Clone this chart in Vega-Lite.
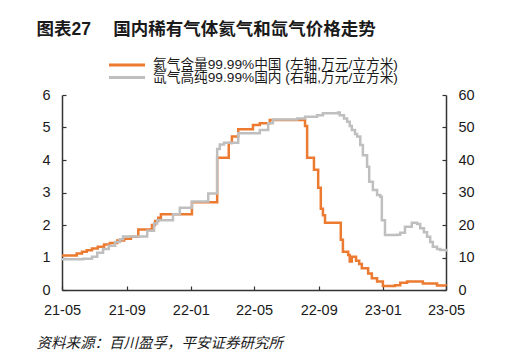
{
  "$schema": "https://vega.github.io/schema/vega-lite/v6.json",
  "width": 384,
  "height": 195,
  "autosize": {"type": "none"},
  "padding": {"left": 62, "top": 95, "right": 76, "bottom": 64},
  "background": "white",
  "config": {
    "view": {"stroke": null},
    "font": "Liberation Sans, Noto Sans CJK SC",
    "axis": {
      "grid": false,
      "domainColor": "#333333",
      "domainWidth": 1.5,
      "tickColor": "#333333",
      "tickWidth": 1.2,
      "labelFont": "Liberation Sans",
      "labelFontSize": 14.5,
      "labelColor": "#1a1a1a"
    }
  },
  "data": {
    "values": [
      {"series": "氦气", "date": "2021-05-01", "price": 1.06},
      {"series": "氦气", "date": "2021-05-29", "price": 1.12},
      {"series": "氦气", "date": "2021-06-08", "price": 1.18},
      {"series": "氦气", "date": "2021-06-17", "price": 1.22},
      {"series": "氦气", "date": "2021-06-27", "price": 1.28},
      {"series": "氦气", "date": "2021-07-08", "price": 1.33},
      {"series": "氦气", "date": "2021-07-20", "price": 1.40},
      {"series": "氦气", "date": "2021-07-31", "price": 1.45},
      {"series": "氦气", "date": "2021-08-14", "price": 1.52},
      {"series": "氦气", "date": "2021-08-27", "price": 1.58},
      {"series": "氦气", "date": "2021-09-09", "price": 1.64},
      {"series": "氦气", "date": "2021-09-23", "price": 1.86},
      {"series": "氦气", "date": "2021-10-19", "price": 2.00},
      {"series": "氦气", "date": "2021-10-25", "price": 2.12},
      {"series": "氦气", "date": "2021-10-31", "price": 2.22},
      {"series": "氦气", "date": "2021-11-05", "price": 2.33},
      {"series": "氦气", "date": "2022-01-03", "price": 2.70},
      {"series": "氦气", "date": "2022-02-20", "price": 4.07},
      {"series": "氦气", "date": "2022-03-14", "price": 4.52},
      {"series": "氦气", "date": "2022-03-20", "price": 4.72},
      {"series": "氦气", "date": "2022-04-01", "price": 4.95},
      {"series": "氦气", "date": "2022-04-29", "price": 5.08},
      {"series": "氦气", "date": "2022-05-12", "price": 5.13},
      {"series": "氦气", "date": "2022-05-31", "price": 5.23},
      {"series": "氦气", "date": "2022-08-06", "price": 5.05},
      {"series": "氦气", "date": "2022-08-10", "price": 4.07},
      {"series": "氦气", "date": "2022-08-23", "price": 3.70},
      {"series": "氦气", "date": "2022-08-31", "price": 3.15},
      {"series": "氦气", "date": "2022-09-05", "price": 2.50},
      {"series": "氦气", "date": "2022-09-09", "price": 2.30},
      {"series": "氦气", "date": "2022-09-13", "price": 2.07},
      {"series": "氦气", "date": "2022-10-13", "price": 1.55},
      {"series": "氦气", "date": "2022-10-17", "price": 1.18},
      {"series": "氦气", "date": "2022-10-27", "price": 1.08},
      {"series": "氦气", "date": "2022-10-30", "price": 0.88},
      {"series": "氦气", "date": "2022-11-03", "price": 1.02},
      {"series": "氦气", "date": "2022-11-11", "price": 0.90},
      {"series": "氦气", "date": "2022-11-17", "price": 0.80},
      {"series": "氦气", "date": "2022-11-22", "price": 0.67},
      {"series": "氦气", "date": "2022-12-04", "price": 0.51},
      {"series": "氦气", "date": "2022-12-11", "price": 0.36},
      {"series": "氦气", "date": "2022-12-21", "price": 0.26},
      {"series": "氦气", "date": "2023-01-01", "price": 0.12},
      {"series": "氦气", "date": "2023-01-24", "price": 0.15},
      {"series": "氦气", "date": "2023-02-03", "price": 0.22},
      {"series": "氦气", "date": "2023-02-16", "price": 0.26},
      {"series": "氦气", "date": "2023-03-18", "price": 0.20},
      {"series": "氦气", "date": "2023-04-14", "price": 0.14},
      {"series": "氦气", "date": "2023-05-01", "price": 0.13},
      {"series": "氙气", "date": "2021-05-01", "price": 9.5},
      {"series": "氙气", "date": "2021-06-10", "price": 9.6},
      {"series": "氙气", "date": "2021-06-27", "price": 10.2},
      {"series": "氙气", "date": "2021-07-07", "price": 11.5},
      {"series": "氙气", "date": "2021-07-18", "price": 12.6},
      {"series": "氙气", "date": "2021-07-29", "price": 13.6},
      {"series": "氙气", "date": "2021-08-10", "price": 14.8},
      {"series": "氙气", "date": "2021-08-19", "price": 15.6},
      {"series": "氙气", "date": "2021-08-25", "price": 16.5},
      {"series": "氙气", "date": "2021-10-10", "price": 18.2},
      {"series": "氙气", "date": "2021-10-23", "price": 20.5},
      {"series": "氙气", "date": "2021-10-29", "price": 21.5},
      {"series": "氙气", "date": "2021-11-28", "price": 23.3},
      {"series": "氙气", "date": "2021-12-11", "price": 25.3},
      {"series": "氙气", "date": "2022-01-03", "price": 27.2},
      {"series": "氙气", "date": "2022-02-03", "price": 29.7},
      {"series": "氙气", "date": "2022-02-20", "price": 43.4},
      {"series": "氙气", "date": "2022-02-25", "price": 44.8},
      {"series": "氙气", "date": "2022-03-05", "price": 45.3},
      {"series": "氙气", "date": "2022-04-01", "price": 48.2},
      {"series": "氙气", "date": "2022-05-12", "price": 49.2},
      {"series": "氙气", "date": "2022-05-28", "price": 51.3},
      {"series": "氙气", "date": "2022-06-06", "price": 52.5},
      {"series": "氙气", "date": "2022-07-22", "price": 52.8},
      {"series": "氙气", "date": "2022-08-06", "price": 53.3},
      {"series": "氙气", "date": "2022-08-29", "price": 53.8},
      {"series": "氙气", "date": "2022-09-09", "price": 54.4},
      {"series": "氙气", "date": "2022-10-08", "price": 54.6},
      {"series": "氙气", "date": "2022-10-11", "price": 53.8},
      {"series": "氙气", "date": "2022-10-19", "price": 52.8},
      {"series": "氙气", "date": "2022-10-25", "price": 51.8},
      {"series": "氙气", "date": "2022-10-30", "price": 50.5},
      {"series": "氙气", "date": "2022-11-03", "price": 49.2},
      {"series": "氙气", "date": "2022-11-09", "price": 48.0},
      {"series": "氙气", "date": "2022-11-13", "price": 47.2},
      {"series": "氙气", "date": "2022-11-19", "price": 44.6},
      {"series": "氙气", "date": "2022-11-24", "price": 41.5},
      {"series": "氙气", "date": "2022-12-02", "price": 37.9},
      {"series": "氙气", "date": "2022-12-06", "price": 33.3},
      {"series": "氙气", "date": "2022-12-13", "price": 30.8},
      {"series": "氙气", "date": "2022-12-21", "price": 29.2},
      {"series": "氙气", "date": "2022-12-27", "price": 28.7},
      {"series": "氙气", "date": "2022-12-30", "price": 21.5},
      {"series": "氙气", "date": "2023-01-05", "price": 16.9},
      {"series": "氙气", "date": "2023-01-28", "price": 17.0},
      {"series": "氙气", "date": "2023-02-03", "price": 17.6},
      {"series": "氙气", "date": "2023-02-12", "price": 19.5},
      {"series": "氙气", "date": "2023-02-25", "price": 20.7},
      {"series": "氙气", "date": "2023-03-07", "price": 20.3},
      {"series": "氙气", "date": "2023-03-13", "price": 19.0},
      {"series": "氙气", "date": "2023-03-20", "price": 17.8},
      {"series": "氙气", "date": "2023-03-26", "price": 16.4},
      {"series": "氙气", "date": "2023-04-01", "price": 14.8},
      {"series": "氙气", "date": "2023-04-06", "price": 13.3},
      {"series": "氙气", "date": "2023-04-14", "price": 12.6},
      {"series": "氙气", "date": "2023-04-20", "price": 12.3},
      {"series": "氙气", "date": "2023-05-01", "price": 11.8}
    ]
  },
  "layer": [
    {
      "transform": [{"filter": "datum.series === '氦气'"}],
      "mark": {"type": "line", "interpolate": "step-after", "strokeWidth": 2.5},
      "encoding": {
        "x": {
          "field": "date",
          "type": "temporal",
          "scale": {"type": "utc", "domain": [{"year": 2021, "month": 5, "date": 1, "utc": true}, {"year": 2023, "month": 5, "date": 1, "utc": true}]},
          "axis": {
            "values": [
              {"year": 2021, "month": 5, "date": 1, "utc": true},
              {"year": 2021, "month": 9, "date": 1, "utc": true},
              {"year": 2022, "month": 1, "date": 1, "utc": true},
              {"year": 2022, "month": 5, "date": 1, "utc": true},
              {"year": 2022, "month": 9, "date": 1, "utc": true},
              {"year": 2023, "month": 1, "date": 1, "utc": true},
              {"year": 2023, "month": 5, "date": 1, "utc": true}
            ],
            "format": "%y-%m",
            "tickSize": -4,
            "labelPadding": 17,
            "labelFlush": false,
            "labelOverlap": false,
            "title": "资料来源：百川盈孚，平安证券研究所",
            "titleFont": "Noto Sans CJK SC",
            "titleFontStyle": "italic",
            "titleFontWeight": "normal",
            "titleFontSize": 14.5,
            "titleColor": "#1a1a1a",
            "titleAnchor": "start",
            "titleAlign": "left",
            "titleBaseline": "middle",
            "titleX": -26,
            "titleY": 53
          }
        },
        "y": {
          "field": "price",
          "type": "quantitative",
          "scale": {"domain": [0, 6], "nice": false},
          "axis": {"orient": "left", "values": [0, 1, 2, 3, 4, 5, 6], "tickSize": -4, "labelPadding": 16, "title": null}
        },
        "color": {
          "datum": "氦气含量99.99%中国 (左轴,万元/立方米)",
          "type": "nominal",
          "scale": {"range": ["#EC7A30"]},
          "legend": {
            "orient": "none",
            "legendX": 45,
            "legendY": -50,
            "title": null,
            "symbolType": "stroke",
            "symbolSize": 1300,
            "symbolStrokeWidth": 3,
            "labelFontSize": 13.7,
            "labelOffset": 6,
            "labelLimit": 400,
            "labelColor": "#1a1a1a",
            "labelFont": "Liberation Sans, Noto Sans CJK SC",
            "padding": 0
          }
        }
      }
    },
    {
      "transform": [{"filter": "datum.series === '氙气'"}],
      "mark": {"type": "line", "interpolate": "step-after", "strokeWidth": 2.5},
      "encoding": {
        "x": {
          "field": "date",
          "type": "temporal",
          "axis": {
            "orient": "top",
            "domain": false,
            "ticks": false,
            "labels": false,
            "title": "图表27\u3000 国内稀有气体氦气和氙气价格走势",
            "titleFont": "Liberation Sans, Noto Sans CJK SC",
            "titleFontSize": 17.5,
            "titleFontWeight": "bold",
            "titleColor": "#1a1a1a",
            "titleAnchor": "start",
            "titleAlign": "left",
            "titleBaseline": "middle",
            "titleX": -26,
            "titleY": -66
          }
        },
        "y": {
          "field": "price",
          "type": "quantitative",
          "scale": {"domain": [0, 60], "nice": false},
          "axis": {"orient": "right", "values": [0, 10, 20, 30, 40, 50, 60], "tickSize": -4, "labelPadding": 16, "title": null}
        },
        "color": {
          "datum": "氙气高纯99.99%国内 (右轴,万元/立方米)",
          "type": "nominal",
          "scale": {"range": ["#BFBFBF"]},
          "legend": {
            "orient": "none",
            "legendX": 45,
            "legendY": -37.5,
            "title": null,
            "symbolType": "stroke",
            "symbolSize": 1300,
            "symbolStrokeWidth": 3,
            "labelFontSize": 13.7,
            "labelOffset": 6,
            "labelLimit": 400,
            "labelColor": "#1a1a1a",
            "labelFont": "Liberation Sans, Noto Sans CJK SC",
            "padding": 0
          }
        }
      }
    },
    {
      "data": {"values": [{"line": "top"}]},
      "mark": {"type": "rule", "color": "#1a1a1a", "strokeWidth": 1.5},
      "encoding": {
        "x": {"datum": "2021-03-05", "type": "temporal", "axis": null},
        "x2": {"datum": "2023-07-08"},
        "y": {"datum": 8.55, "type": "quantitative", "scale": {"domain": [0, 6], "nice": false}, "axis": null}
      }
    },
    {
      "data": {"values": [{"line": "title"}]},
      "mark": {"type": "rule", "color": "#444444", "strokeWidth": 2},
      "encoding": {
        "x": {"datum": "2021-03-05", "type": "temporal", "axis": null},
        "x2": {"datum": "2023-07-08"},
        "y": {"datum": 7.45, "type": "quantitative", "scale": {"domain": [0, 6], "nice": false}, "axis": null}
      }
    },
    {
      "data": {"values": [{"line": "source"}]},
      "mark": {"type": "rule", "color": "#1a1a1a", "strokeWidth": 1.2},
      "encoding": {
        "x": {"datum": "2021-03-05", "type": "temporal", "axis": null},
        "x2": {"datum": "2023-07-08"},
        "y": {"datum": -1.34, "type": "quantitative", "scale": {"domain": [0, 6], "nice": false}, "axis": null}
      }
    }
  ],
  "resolve": {"scale": {"y": "independent", "color": "independent"}, "axis": {"x": "independent"}}
}
